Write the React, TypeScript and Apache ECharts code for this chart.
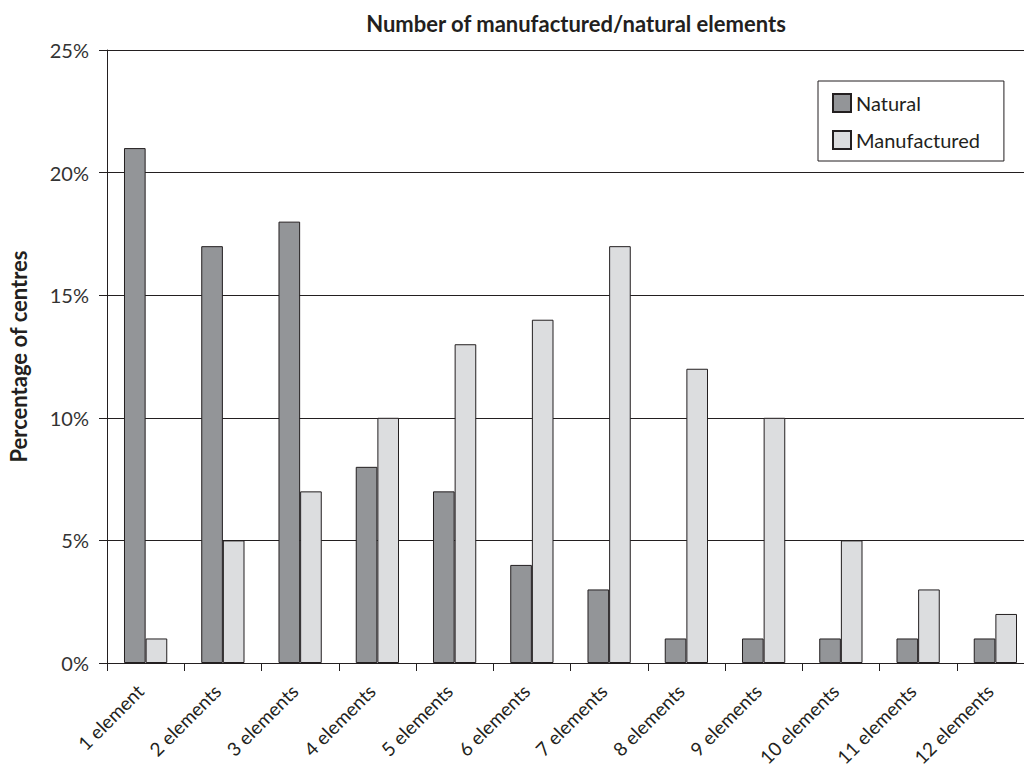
import React, { useEffect, useRef } from "react";
import * as echarts from "echarts";

const categories = [
  "1 element", "2 elements", "3 elements", "4 elements", "5 elements", "6 elements",
  "7 elements", "8 elements", "9 elements", "10 elements", "11 elements", "12 elements",
];
const natural = [21, 17, 18, 8, 7, 4, 3, 1, 1, 1, 1, 1];
const manufactured = [1, 5, 7, 10, 13, 14, 17, 12, 10, 5, 3, 2];
const yTicks = { min: 0, max: 25, interval: 5 };

const FONT = "Lato, 'Noto Sans', sans-serif";
const INK = "#231f20";

export default function App() {
  const ref = useRef<HTMLDivElement>(null);
  useEffect(() => {
    if (!ref.current) return;
    const chart = echarts.init(ref.current, undefined, { renderer: "svg" });
    chart.setOption({
      animation: false,
      textStyle: { fontFamily: FONT, color: INK },
      title: {
        text: "Number of manufactured/natural elements",
        left: 571,
        textAlign: "center",
        top: 7,
        textStyle: { fontFamily: FONT, fontSize: 22, fontWeight: "bold", color: INK },
      },
      legend: {
        orient: "vertical",
        left: 818,
        top: 81,
        width: 155,
        borderColor: INK,
        borderWidth: 1,
        padding: [12, 24, 11, 14],
        itemWidth: 18,
        itemHeight: 18,
        itemGap: 17,
        icon: "rect",
        textStyle: { fontFamily: FONT, fontSize: 20, color: INK },
        data: ["Natural", "Manufactured"],
      },
      grid: {
        left: 107,
        top: 50,
        width: 927,
        bottom: 107,
        containLabel: false,
        outerBoundsMode: "none",
      },
      xAxis: {
        type: "category",
        data: categories,
        axisLine: { show: true, lineStyle: { color: INK, width: 1 } },
        axisTick: { show: true, length: 8, lineStyle: { color: INK } },
        axisLabel: {
          rotate: 45,
          fontFamily: FONT,
          fontSize: 19,
          color: INK,
          margin: 19,
          padding: [0, 8, 0, 0],
          interval: 0,
        },
      },
      yAxis: {
        type: "value",
        min: yTicks.min,
        max: yTicks.max,
        interval: yTicks.interval,
        name: "Percentage of centres",
        nameLocation: "middle",
        nameGap: 78,
        nameRotate: 90,
        nameTextStyle: { fontFamily: FONT, fontSize: 22, fontWeight: "bold", color: INK },
        axisLine: { show: true, lineStyle: { color: INK, width: 1 } },
        axisTick: { show: true, length: 8, lineStyle: { color: INK } },
        axisLabel: {
          formatter: "{value}%",
          fontFamily: FONT,
          fontSize: 20,
          color: "#333",
          margin: 18,
        },
        splitLine: { show: true, lineStyle: { color: INK, width: 1 } },
      },
      series: [
        {
          name: "Natural",
          type: "bar",
          data: natural,
          barGap: "0%",
          barCategoryGap: "44%",
          itemStyle: { color: "#939598", borderColor: INK, borderWidth: 1 },
        },
        {
          name: "Manufactured",
          type: "bar",
          data: manufactured,
          barGap: "0%",
          barCategoryGap: "44%",
          itemStyle: { color: "#dcdddf", borderColor: INK, borderWidth: 1 },
        },
      ],
    });
    return () => chart.dispose();
  }, []);
  return (
    <div
      ref={ref}
      style={{ position: "fixed", left: 0, top: 0, width: 1024, height: 770, background: "#fff" }}
    />
  );
}
